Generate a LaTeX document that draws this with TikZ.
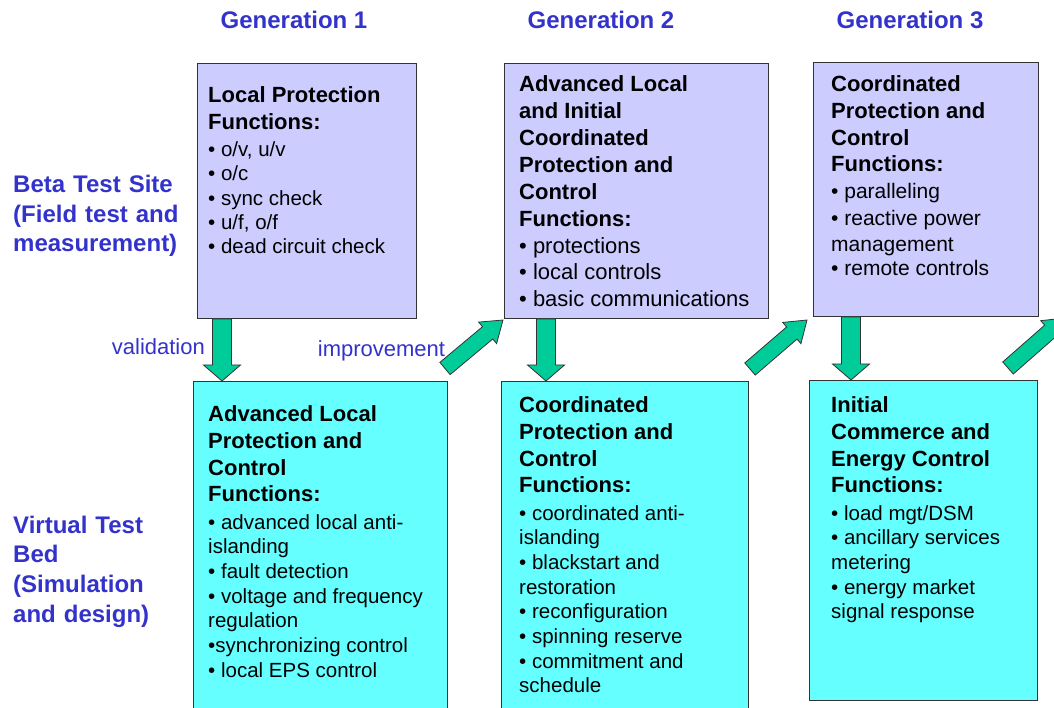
\documentclass[tikz,border=0pt]{standalone}
\usepackage{fontspec}
\setmainfont{Liberation Sans}
\usetikzlibrary{calc}
\setlength{\parindent}{0pt}
\definecolor{lav}{HTML}{CCCCFF}
\definecolor{cyanbox}{HTML}{66FFFF}
\definecolor{arrgreen}{HTML}{00CC99}
\definecolor{lblue}{HTML}{3333CC}
\definecolor{edgegray}{HTML}{333333}
\newcommand{\bhead}[2]{{\fontsize{22}{#1}\selectfont\bfseries\spaceskip=0pt\xspaceskip=0pt #2\par}}
\newcommand{\bitem}[3]{{\fontsize{#1}{#2}\selectfont\spaceskip=0pt\xspaceskip=0pt #3\par}}
\newcommand{\blockarrow}[5]{%
  \draw[blockarr] let \p1=#1, \p2=#2, \n1={atan2(\y2-\y1,\x2-\x1)}, \n2={veclen(\x2-\x1,\y2-\y1)} in
    [shift={(\p1)}, rotate=\n1]
    (0,-#3) -- ({\n2-#5},-#3) -- ({\n2-#5},-#4) -- (\n2,0) -- ({\n2-#5},#4) -- ({\n2-#5},#3) -- (0,#3) -- cycle;}
\tikzset{
  box/.style={draw=edgegray, line width=1pt, inner sep=0pt, anchor=north west},
  topbox/.style={box, fill=lav},
  botbox/.style={box, fill=cyanbox},
  blockarr/.style={draw=edgegray, line width=0.8pt, fill=arrgreen, line join=miter},
  txt/.style={anchor=base west, inner sep=0pt, text width=320pt, align=left},
  genlbl/.style={anchor=base, inner sep=0pt, text=lblue, font=\fontsize{24}{29}\selectfont\bfseries},
  sidelbl/.style={anchor=base west, inner sep=0pt, text=lblue, text width=200pt, align=left, font=\fontsize{24}{29.5}\selectfont\bfseries},
  arrlbl/.style={anchor=base west, inner sep=0pt, text=lblue, font=\fontsize{22}{26}\selectfont},
}
\begin{document}
\begin{tikzpicture}[x=1pt,y=1pt]
\useasboundingbox (0,0) rectangle (1054,707);
\clip (0,0) rectangle (1054,707);
\fill[white] (0,0) rectangle (1054,707);

% boxes
\node[topbox, minimum width=219pt, minimum height=255pt] (T1) at (197,644) {};
\node[topbox, minimum width=264pt, minimum height=255pt] (T2) at (504,644) {};
\node[topbox, minimum width=225pt, minimum height=254pt] (T3) at (813,645) {};
\node[botbox, minimum width=254pt, minimum height=340pt] (B1) at (193,326) {};
\node[botbox, minimum width=247pt, minimum height=340pt] (B2) at (501,326) {};
\node[botbox, minimum width=228pt, minimum height=320pt] (B3) at (809,327) {};
\coordinate (offR) at (1065,389);

% block arrows
\blockarrow{($(T1.south west)+(25,0)$)}{($(B1.north west)+(29,0)$)}{9.5}{18.5}{16}
\blockarrow{($(T2.south west)+(42,0)$)}{($(B2.north west)+(45,0)$)}{9.5}{18.5}{16}
\blockarrow{($(T3.south west)+(38,0)$)}{($(B3.north west)+(42,0)$)}{9.5}{18.5}{16}
\blockarrow{($(B1.north east)+(-3,12.5)$)}{($(T2.south west)+(-1,-1)$)}{8}{14}{20}
\blockarrow{($(B2.north east)+(1,12)$)}{($(T3.south west)+(-6,-3)$)}{8}{14}{20}
\blockarrow{($(B3.north east)+(-30,12)$)}{(offR)}{8}{14}{20}

% headers
\node[genlbl] (g1) at (294,678) {Generation 1};
\node[genlbl] (g2) at (601,678) {Generation 2};
\node[genlbl] (g3) at (910,678) {Generation 3};
\node[sidelbl] (beta) at (13,514) {Beta Test Site\\(Field test and\\measurement)};
\node[sidelbl] (virt) at (13,173.5) {Virtual Test\\Bed\\(Simulation\\and design)};
\node[arrlbl] (val) at (111.7,352) {validation};
\node[arrlbl] (imp) at (317.7,350) {improvement};

% box texts
\node[txt] (t1) at (208,604.3) {%
\bhead{27}{Local Protection}
\bhead{27.3}{Functions:}
\bitem{20.5}{26.7}{• o/v, u/v}
\bitem{20.5}{24.3}{• o/c}
\bitem{20.5}{24.3}{• sync check}
\bitem{20.5}{24.3}{• u/f, o/f}
\bitem{20.5}{24.3}{• dead circuit check}};

\node[txt] (t2) at (519,615.3) {%
\bhead{26.9}{Advanced Local}
\bhead{26.9}{and Initial}
\bhead{26.9}{Coordinated}
\bhead{26.9}{Protection and}
\bhead{26.9}{Control}
\bhead{26.9}{Functions:}
\bitem{22}{26.9}{• protections}
\bitem{22}{26.9}{• local controls}
\bitem{22}{26.9}{• basic communications}};

\node[txt] (t3) at (831,615.3) {%
\bhead{26.7}{Coordinated}
\bhead{26.7}{Protection and}
\bhead{26.7}{Control}
\bhead{26.7}{Functions:}
\bitem{21}{26.3}{• paralleling}
\bitem{21}{27.5}{• reactive power}
\bitem{21}{26.3}{management}
\bitem{21}{24}{• remote controls}};

\node[txt] (t4) at (208,285.3) {%
\bhead{26.7}{Advanced Local}
\bhead{26.7}{Protection and}
\bhead{26.7}{Control}
\bhead{26.7}{Functions:}
\bitem{20.5}{27.3}{• advanced local anti-}
\bitem{20.5}{24.7}{islanding}
\bitem{20.5}{24.7}{• fault detection}
\bitem{20.5}{24.7}{• voltage and frequency}
\bitem{20.5}{24.7}{regulation}
\bitem{20.5}{24.7}{•synchronizing control}
\bitem{20.5}{24.7}{• local EPS control}};

\node[txt] (t5) at (519,294.3) {%
\bhead{26.7}{Coordinated}
\bhead{26.7}{Protection and}
\bhead{26.7}{Control}
\bhead{26.7}{Functions:}
\bitem{20.5}{27.3}{• coordinated anti-}
\bitem{20.5}{24.7}{islanding}
\bitem{20.5}{24.7}{• blackstart and}
\bitem{20.5}{24.7}{restoration}
\bitem{20.5}{24.7}{• reconfiguration}
\bitem{20.5}{24.7}{• spinning reserve}
\bitem{20.5}{24.7}{• commitment and}
\bitem{20.5}{24.7}{schedule}};

\node[txt] (t6) at (831,294.3) {%
\bhead{26.7}{Initial}
\bhead{26.7}{Commerce and}
\bhead{26.7}{Energy Control}
\bhead{26.7}{Functions:}
\bitem{20.5}{27.3}{• load mgt/DSM}
\bitem{20.5}{24.7}{• ancillary services}
\bitem{20.5}{24.7}{metering}
\bitem{20.5}{24.7}{• energy market}
\bitem{20.5}{24.7}{signal response}};
\end{tikzpicture}
\end{document}
